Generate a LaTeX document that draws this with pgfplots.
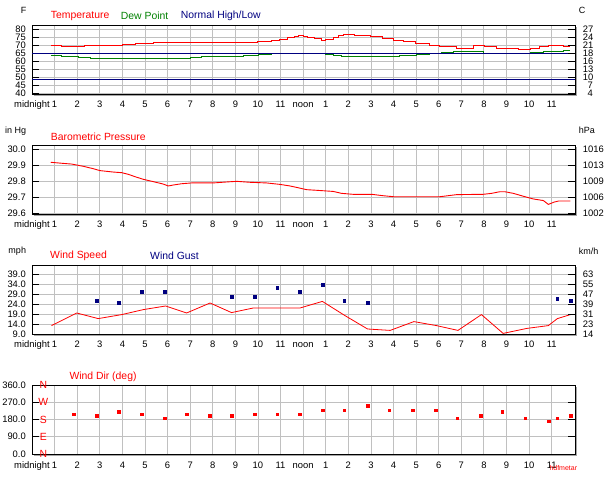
\documentclass[border=0pt]{standalone}
\usepackage{fontspec}
\setmainfont{Liberation Sans}
\usepackage{pgfplots}
\pgfplotsset{compat=1.18}
\usetikzlibrary{shadows}

\definecolor{wdred}{RGB}{255,0,0}
\definecolor{wdgreen}{RGB}{0,128,0}
\definecolor{wdnavy}{RGB}{0,0,128}
\definecolor{wdgrid}{RGB}{192,192,192}

\pgfplotsset{
  wdpanel/.style={
    scale only axis, width=543pt, height=69pt, anchor=south west,
    xmin=0, xmax=24.03,
    xtick={0,...,23},
    xticklabels={midnight,1,2,3,4,5,6,7,8,9,10,11,noon,1,2,3,4,5,6,7,8,9,10,11},
    xtick style={draw=none},
    ytick style={black, line width=0.8pt},
    major tick length=7pt,
    grid=major,
    major grid style={draw=wdgrid, line width=0.9pt},
    axis line style={line width=0.9pt},
    axis background/.style={fill=white, drop shadow={shadow xshift=2pt, shadow yshift=-2pt, opacity=1, fill=gray!70}},
    ticklabel style={font=\fontsize{9.4}{10}\selectfont},
    yticklabel style={inner sep=0pt, xshift=-6pt},
    xticklabel style={inner sep=0pt, text height=6.8pt, text depth=1.6pt, yshift=-7pt},
    yticklabel pos=left,
  },
  wdtwin/.style={
    scale only axis, width=543pt, height=69pt, anchor=south west,
    xmin=0, xmax=24.03, hide x axis, axis y line*=right,
    ytick style={black, line width=0.8pt}, major tick length=7pt,
    axis line style={line width=0.9pt},
    ticklabel style={font=\fontsize{9.4}{10}\selectfont},
    yticklabel style={inner sep=0pt, anchor=west, text width=10pt, align=right, xshift=7.7pt},
  },
}
\tikzset{
  title/.style={anchor=west, inner sep=0pt, font=\fontsize{10.4}{12}\selectfont},
  unit/.style={anchor=west, inner sep=0pt, font=\fontsize{9}{11}\selectfont},
  compass/.style={text=wdred, inner sep=0pt, font=\fontsize{10.4}{12}\selectfont},
}

\begin{document}
\begin{tikzpicture}
\useasboundingbox (0,0) rectangle (614pt,480pt);

% ---------- temperature ----------
\begin{axis}[wdpanel, at={(32pt,386pt)},
  ymin=39.6, ymax=82.7,
  ytick={40,45,...,80},
  yticklabels={40,45,50,55,60,65,70,75,80}]
\addplot[wdgreen, line width=0.9pt, const plot] coordinates {
 (0.83,63.75) (1.31,63.1) (2.05,62.5) (2.57,61.9) (6.99,62.5) (7.51,63.1)
 (9.35,63.75) (10.00,64.6) (10.60,65.0) (13.00,64.6) (13.33,63.75) (13.70,63.1)
 (16.28,63.75) (17.02,64.6) (17.61,65.0) (18.12,65.6) (18.64,66.25) (19.97,65.0)
 (22.04,65.6) (22.63,66.25) (23.50,67.1) (23.83,67.1)};
\addplot[wdnavy, line width=0.9pt] coordinates {(0,65) (24.03,65)};
\addplot[wdnavy, line width=0.9pt] coordinates {(0,48.75) (24.03,48.75)};
\addplot[wdred, line width=1pt, const plot] coordinates {
 (0.83,70.0) (1.31,69.4) (2.33,70.0) (4.00,70.6) (4.56,71.3) (5.37,71.9)
 (10.00,72.5) (10.60,73.1) (10.97,73.8) (11.30,74.6) (11.60,75.4) (11.80,76.2)
 (12.00,75.6) (12.20,75.0) (12.52,74.2) (12.82,73.3) (13.00,73.9) (13.33,75.0)
 (13.55,76.0) (13.78,76.9) (14.29,76.3) (14.96,75.4) (15.50,74.4) (16.00,73.3)
 (16.43,72.3) (16.95,71.0) (17.61,70.0) (18.05,69.2) (18.79,68.3) (19.53,69.6)
 (20.04,69.0) (20.56,68.1) (21.52,67.1) (22.04,67.9) (22.48,69.0) (22.85,70.2)
 (23.50,69.4) (23.83,69.4)};
\end{axis}
\begin{axis}[wdtwin, at={(32pt,386pt)},
  ymin=39.6, ymax=82.7,
  ytick={40,45,...,80},
  yticklabels={4,7,10,13,16,18,21,24,27}]
\end{axis}

% ---------- pressure ----------
\begin{axis}[wdpanel, at={(32pt,266pt)},
  ymin=29.596, ymax=30.027,
  ytick={29.6,29.7,29.8,29.9,30.0},
  yticklabels={29.6,29.7,29.8,29.9,30.0}]
\addplot[wdred, line width=0.9pt] coordinates {
 (0.83,29.919) (1.31,29.913) (1.75,29.908) (2.27,29.894) (2.71,29.879) (3.01,29.867)
 (3.60,29.858) (3.97,29.854) (4.26,29.844) (4.56,29.829) (4.93,29.8125) (5.37,29.798)
 (5.81,29.783) (6.03,29.771) (6.25,29.777) (6.62,29.785) (7.06,29.790) (8.02,29.790)
 (8.61,29.796) (9.06,29.800) (9.65,29.794) (10.38,29.790) (10.97,29.781) (11.42,29.771)
 (11.78,29.760) (12.15,29.748) (12.60,29.744) (13.33,29.737) (13.70,29.725) (14.20,29.719)
 (15.03,29.719) (15.55,29.710) (16.00,29.704) (18.05,29.704) (18.40,29.710) (18.80,29.717)
 (19.97,29.719) (20.34,29.725) (20.70,29.735) (20.93,29.735) (21.30,29.725) (21.74,29.707)
 (22.18,29.690) (22.63,29.680) (22.85,29.656) (23.10,29.670) (23.30,29.677) (23.83,29.677)};
\end{axis}
\begin{axis}[wdtwin, at={(32pt,266pt)},
  ymin=29.596, ymax=30.027,
  ytick={29.6,29.7,29.8,29.9,30.0},
  yticklabels={1002,1006,1009,1013,1016}]
\end{axis}

% ---------- wind ----------
\begin{axis}[wdpanel, at={(32pt,146pt)},
  ymin=9, ymax=43.5,
  ytick={9,14,19,24,29,34,39},
  yticklabels={9.0,14.0,19.0,24.0,29.0,34.0,39.0}]
\addplot[wdred, line width=0.8pt] coordinates {
 (0.86,13.2) (1.98,19.5) (2.93,16.7) (3.97,18.7) (4.93,21.2) (5.91,23.0)
 (6.84,19.5) (7.88,24.5) (8.83,19.7) (9.79,22.0) (10.85,22.0) (11.86,22.0)
 (12.85,25.3) (13.85,18.2) (14.85,11.5) (15.85,10.8) (16.90,15.2) (17.90,13.2)
 (18.85,10.8) (19.89,18.7) (20.85,9.3) (21.90,11.8) (22.85,13.2) (23.25,16.7)
 (23.83,18.7)};
\addplot[only marks, mark=square*, mark size=1.4pt, color=wdnavy] coordinates {
 (2.85,25.5) (3.82,24.7) (4.84,30.0) (5.86,30.0) (8.82,27.5) (9.84,27.5)
 (10.85,32.0) (11.83,30.0) (12.85,33.5) (13.82,25.5) (14.84,24.5) (23.24,26.5)
 (23.83,25.5)};
\end{axis}
\begin{axis}[wdtwin, at={(32pt,146pt)},
  ymin=9, ymax=43.5,
  ytick={9,14,19,24,29,34,39},
  yticklabels={14,23,31,39,47,55,63}]
\end{axis}

% ---------- wind direction ----------
\begin{axis}[wdpanel, at={(32pt,26pt)},
  ymin=0, ymax=360,
  ytick={0,90,180,270,360},
  yticklabels={0.0,90.0,180.0,270.0,360.0}, clip=false]
\addplot[only marks, mark=square*, mark size=1.4pt, color=wdred] coordinates {
 (1.83,208) (2.85,198) (3.82,219) (4.84,208) (5.86,187) (6.84,208) (7.85,198)
 (8.82,198) (9.84,208) (10.85,208) (11.83,208) (12.85,229) (13.82,229) (14.84,251)
 (15.81,229) (16.83,229) (17.85,229) (18.82,187) (19.84,198) (20.81,219) (21.83,187)
 (22.85,171) (23.24,187) (23.83,198)};
\node[compass] at (axis cs:0.5,0) {N};
\node[compass] at (axis cs:0.5,90) {E};
\node[compass] at (axis cs:0.5,180) {S};
\node[compass] at (axis cs:0.5,270) {W};
\node[compass] at (axis cs:0.5,360) {N};
\end{axis}

% ---------- titles ----------
\node[unit, anchor=center] at (23.5pt,470pt) {F};
\node[title, text=wdred]   at (50.7pt,464pt) {Temperature};
\node[title, text=wdgreen] at (120.7pt,464pt) {Dew Point};
\node[title, text=wdnavy]  at (180.7pt,464pt) {Normal High/Low};
\node[unit, anchor=center] at (582pt,470pt) {C};

\node[unit] at (5pt,349pt) {in Hg};
\node[title, text=wdred] at (50.7pt,343pt) {Barometric Pressure};
\node[unit] at (578.7pt,350pt) {hPa};

\node[unit] at (8.3pt,229pt) {mph};
\node[title, text=wdred]  at (50pt,224pt) {Wind Speed};
\node[title, text=wdnavy] at (150pt,224pt) {Wind Gust};
\node[unit] at (578.7pt,229pt) {km/h};

\node[title, text=wdred] at (69.3pt,103pt) {Wind Dir (deg)};
\node[anchor=west, inner sep=0pt, text=wdred, font=\fontsize{7}{8}\selectfont] at (549.3pt,12pt) {hdfmetar};
\end{tikzpicture}
\end{document}
